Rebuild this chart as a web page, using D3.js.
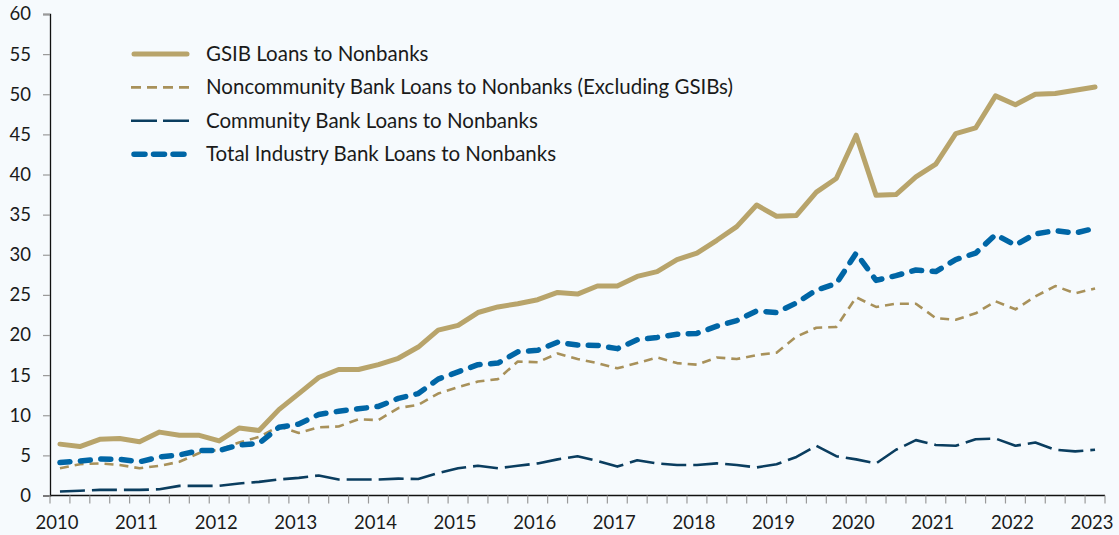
<!DOCTYPE html>
<html>
<head>
<meta charset="utf-8">
<script src="https://cdn.jsdelivr.net/npm/d3@7"></script>
<style>
  html, body { margin: 0; padding: 0; background: #f6fafd; }
  svg { display: block; }
  text { font-family: Lato, "Noto Sans", sans-serif; fill: #1a1a1a; }
</style>
</head>
<body>
<svg id="chart" width="1119" height="535"></svg>
<script>
// Quarterly observations, 2010 Q1 .. 2023 Q1 (53 quarters)
const quarters = d3.range(53).map(i => `${2010 + Math.floor(i / 4)}Q${(i % 4) + 1}`);
const yearLabels = ["2010","2011","2012","2013","2014","2015","2016","2017","2018","2019","2020","2021","2022","2023"];
const yTicks = [0, 5, 10, 15, 20, 25, 30, 35, 40, 45, 50, 55, 60];

const gsib = [6.4, 6.1, 7.0, 7.1, 6.7, 7.9, 7.5, 7.5, 6.8, 8.4, 8.1, 10.7, 12.7, 14.7, 15.7, 15.7,
  16.3, 17.1, 18.5, 20.6, 21.2, 22.8, 23.5, 23.9, 24.4, 25.3, 25.1, 26.1, 26.1, 27.3, 27.9, 29.4,
  30.2, 31.8, 33.5, 36.2, 34.8, 34.9, 37.8, 39.5, 44.9, 37.4, 37.5, 39.7, 41.3, 45.1, 45.8, 49.8,
  48.7, 50.0, 50.1, 50.5, 50.9];
const noncommunity = [3.4, 3.9, 4.0, 3.8, 3.4, 3.7, 4.2, 5.3, 5.7, 6.6, 7.3, 8.6, 7.8, 8.5, 8.6, 9.5,
  9.4, 10.9, 11.3, 12.7, 13.5, 14.2, 14.5, 16.7, 16.6, 17.7, 17.0, 16.5, 15.85, 16.5, 17.2, 16.5,
  16.3, 17.2, 17.0, 17.5, 17.8, 19.8, 20.9, 21.0, 24.7, 23.5, 23.9, 23.9, 22.1, 21.9, 22.7, 24.2,
  23.2, 24.8, 26.1, 25.2, 25.8];
const community = [0.5, 0.6, 0.7, 0.7, 0.7, 0.77, 1.2, 1.2, 1.2, 1.5, 1.7, 2.0, 2.2, 2.5, 2.0, 2.0,
  2.0, 2.1, 2.05, 2.8, 3.4, 3.7, 3.4, 3.7, 4.0, 4.5, 4.9, 4.3, 3.6, 4.4, 4.0, 3.8,
  3.8, 4.0, 3.8, 3.5, 3.9, 4.8, 6.2, 4.9, 4.5, 4.0, 5.7, 6.9, 6.3, 6.2, 7.0, 7.1,
  6.2, 6.6, 5.7, 5.5, 5.7];
const total = [4.1, 4.3, 4.55, 4.5, 4.2, 4.8, 5.05, 5.6, 5.6, 6.3, 6.5, 8.5, 8.9, 10.1, 10.5, 10.8,
  11.1, 12.1, 12.7, 14.5, 15.4, 16.3, 16.5, 17.9, 18.1, 19.1, 18.75, 18.7, 18.3, 19.4, 19.7, 20.1,
  20.2, 21.1, 21.8, 23.0, 22.8, 24.0, 25.6, 26.4, 30.2, 26.8, 27.4, 28.1, 27.9, 29.4, 30.2, 32.5,
  31.2, 32.6, 33.0, 32.7, 33.3];

const seriesNames = [
  "GSIB Loans to Nonbanks",
  "Noncommunity Bank Loans to Nonbanks (Excluding GSIBs)",
  "Community Bank Loans to Nonbanks",
  "Total Industry Bank Loans to Nonbanks"
];

const series = [
  { name: seriesNames[0], values: gsib,         color: "#b8a46b", width: 5,   dash: null,      legendDash: null,    cap: "round" },
  { name: seriesNames[1], values: noncommunity, color: "#a8915a", width: 2.6, dash: "9,6",     legendDash: "10,6",  cap: "butt" },
  { name: seriesNames[2], values: community,    color: "#0a3d5f", width: 2.6, dash: "25,7",    legendDash: "26,6",  cap: "butt" },
  { name: seriesNames[3], values: total,        color: "#0066a6", width: 5.5, dash: "10,10.5", legendDash: "11,8.5", cap: "round" }
];

const svg = d3.select("#chart");
const margin = { left: 50, right: 1105, top: 14, bottom: 495.5 };

const x = d3.scaleBand().domain(quarters).range([margin.left, margin.right]).paddingInner(0).paddingOuter(0);
const y = d3.scaleLinear().domain([0, 60]).range([margin.bottom, margin.top]);
const xc = q => x(q) + x.bandwidth() / 2;

// Y axis
const yAxis = svg.append("g").attr("transform", `translate(${margin.left},0)`)
  .call(d3.axisLeft(y).tickValues(yTicks).tickSize(7).tickPadding(12).tickFormat(d3.format("d")));
yAxis.select(".domain").attr("stroke", "#111").attr("stroke-width", 1.3);
yAxis.selectAll(".tick line").attr("stroke", "#9a9a9a").attr("stroke-width", 1.2);
yAxis.selectAll(".tick text").attr("font-size", 18.5).attr("font-family", "Lato, 'Noto Sans', sans-serif").attr("fill", "#1a1a1a");

// X axis: ticks at quarter boundaries, labels at each Q1
const xg = svg.append("g").attr("transform", `translate(0,${margin.bottom})`);
xg.append("line").attr("x1", margin.left).attr("x2", margin.right).attr("y1", 0).attr("y2", 0)
  .attr("stroke", "#111").attr("stroke-width", 1.3);
const boundaries = quarters.map(q => x(q)).concat([margin.right]);
xg.selectAll("line.tk").data(boundaries).join("line").attr("class", "tk")
  .attr("x1", d => d).attr("x2", d => d).attr("y1", 0).attr("y2", 8)
  .attr("stroke", "#9a9a9a").attr("stroke-width", 1.2);
xg.selectAll("text.yl").data(yearLabels).join("text").attr("class", "yl")
  .attr("x", d => xc(d + "Q1") - 3).attr("y", 33)
  .attr("text-anchor", "middle").attr("font-size", 18.5).text(d => d);

// Lines
const line = d3.line().x((d, i) => xc(quarters[i])).y(d => y(d)).curve(d3.curveLinear);
const drawOrder = [2, 1, 3, 0];
drawOrder.forEach(k => {
  const s = series[k];
  svg.append("path").datum(s.values)
    .attr("d", line)
    .attr("fill", "none")
    .attr("stroke", s.color)
    .attr("stroke-width", s.width)
    .attr("stroke-linejoin", "round")
    .attr("stroke-linecap", s.cap)
    .attr("stroke-dasharray", s.dash);
});

// Legend
const legend = svg.append("g");
series.forEach((s, i) => {
  const ly = 54 + i * 33.4;
  legend.append("line")
    .attr("x1", s.cap === "round" ? 134 : 131).attr("x2", s.cap === "round" ? 187 : 189)
    .attr("y1", ly).attr("y2", ly)
    .attr("stroke", s.color).attr("stroke-width", s.width)
    .attr("stroke-linecap", s.cap)
    .attr("stroke-dasharray", s.legendDash);
  legend.append("text").attr("x", 206).attr("y", ly + 7)
    .attr("font-size", 20.5).text(s.name);
});
</script>
</body>
</html>
